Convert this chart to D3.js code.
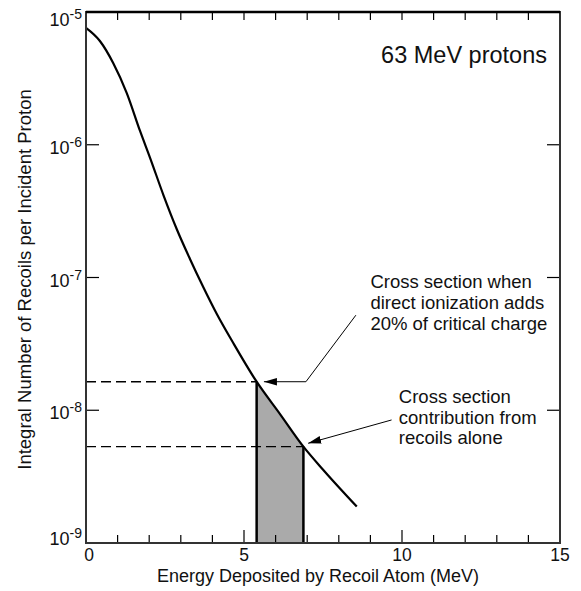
<!DOCTYPE html>
<html>
<head>
<meta charset="utf-8">
<script src="https://cdn.jsdelivr.net/npm/d3@7"></script>
<style>
  html, body { margin: 0; padding: 0; background: #fff; }
  svg { display: block; font-family: "Liberation Sans", Arial, sans-serif; }
</style>
</head>
<body>
<svg id="chart" width="581" height="591"></svg>
<script>
// ---- data ----
const energy  = [0, 0.44, 0.86, 1.29, 1.71, 2.03, 2.45, 2.87, 3.29, 3.71, 4.14, 4.66, 5.40, 6.14, 6.88, 7.51, 8.57];
const recoils = [7.6e-6, 6.05e-6, 4.13e-6, 2.45e-6, 1.27e-6, 7.94e-7, 4.18e-7, 2.32e-7, 1.38e-7, 8.48e-8, 5.31e-8, 3.21e-8, 1.64e-8, 9.36e-9, 5.32e-9, 3.55e-9, 1.88e-9];
const shadeRange = [5.40, 6.88];
const xTickLabels = [0, 5, 10, 15];
const xMinorTicks = [1, 2, 3, 4, 6, 7, 8, 9, 11, 12, 13, 14];
const xTopTicks = [1, 2, 3, 4, 5, 6, 7, 8, 9, 10, 11, 12, 13, 14];
const yExponents = [-5, -6, -7, -8, -9];
const titleText = "63 MeV protons";
const note1 = ["Cross section when", "direct ionization adds", "20% of critical charge"];
const note2 = ["Cross section", "contribution from", "recoils alone"];
const xLabel = "Energy Deposited by Recoil Atom (MeV)";
const yLabel = "Integral Number of Recoils per Incident Proton";

// ---- layout ----
const L = 86, R = 560, T = 12, B = 543;
const svg = d3.select("#chart");
const x = d3.scaleLinear().domain([0, 15]).range([L, R]);
const y = d3.scaleLog().domain([1e-9, 1e-5]).range([B, T]);

const pts = energy.map((e, i) => ({ e, v: recoils[i] }));

// shaded area
const shadePts = pts.filter(p => p.e >= shadeRange[0] - 1e-9 && p.e <= shadeRange[1] + 1e-9);
const area = d3.area().x(d => x(d.e)).y0(B).y1(d => y(d.v)).curve(d3.curveMonotoneX);
svg.append("path").datum(shadePts).attr("d", area).attr("fill", "#aaaaaa");

const first = shadePts[0], last = shadePts[shadePts.length - 1];

// dashed lines
[first, last].forEach(p => {
  svg.append("line")
    .attr("x1", L).attr("x2", x(p.e)).attr("y1", y(p.v)).attr("y2", y(p.v))
    .attr("stroke", "#000").attr("stroke-width", 1.3).attr("stroke-dasharray", "10,5");
});

// curve
const line = d3.line().x(d => x(d.e)).y(d => y(d.v)).curve(d3.curveMonotoneX);
svg.append("path").datum(pts).attr("d", line)
  .attr("fill", "none").attr("stroke", "#000").attr("stroke-width", 2.2);

// shaded verticals
[first, last].forEach(p => {
  svg.append("line")
    .attr("x1", x(p.e)).attr("x2", x(p.e)).attr("y1", B).attr("y2", y(p.v))
    .attr("stroke", "#000").attr("stroke-width", 2.5);
});

// ticks
const tk = svg.append("g").attr("stroke", "#000").attr("stroke-width", 1.2);
xMinorTicks.forEach(t => tk.append("line").attr("x1", x(t)).attr("x2", x(t)).attr("y1", B).attr("y2", B - 8));
xTickLabels.filter(t => t > 0 && t < 15).forEach(t => tk.append("line").attr("x1", x(t)).attr("x2", x(t)).attr("y1", B).attr("y2", B - 13));
xTopTicks.forEach(t => tk.append("line").attr("x1", x(t)).attr("x2", x(t)).attr("y1", T).attr("y2", T + 8));
yExponents.forEach(ex => {
  const yy = y(Math.pow(10, ex));
  tk.append("line").attr("x1", L).attr("x2", L + 13).attr("y1", yy).attr("y2", yy);
  tk.append("line").attr("x1", R).attr("x2", R - 13).attr("y1", yy).attr("y2", yy);
});

// frame
svg.append("rect").attr("x", L).attr("y", T).attr("width", R - L).attr("height", B - T)
  .attr("fill", "none").attr("stroke", "#333").attr("stroke-width", 2);
svg.append("line").attr("x1", L).attr("x2", R).attr("y1", T).attr("y2", T)
  .attr("stroke", "#000").attr("stroke-width", 2.4);

// x tick labels
svg.append("g").selectAll("text").data(xTickLabels).join("text")
  .attr("x", d => x(d) + (d === 0 ? 3 : 0)).attr("y", 561)
  .attr("text-anchor", "middle").attr("font-size", 17.5).attr("fill", "#111")
  .text(d => d);

// y tick labels
yExponents.forEach(ex => {
  const yy = y(Math.pow(10, ex));
  const base = Math.max(26, Math.min(545, yy + 9));
  const t = svg.append("text").attr("x", 82).attr("y", base)
    .attr("text-anchor", "end").attr("fill", "#111").attr("font-size", 18);
  t.append("tspan").text("10");
  t.append("tspan").attr("font-size", 14).attr("dy", -7).text(String(ex));
});

// axis labels
svg.append("text").attr("x", 318).attr("y", 582).attr("text-anchor", "middle")
  .attr("font-size", 18).attr("fill", "#111").text(xLabel);
svg.append("text").attr("transform", `translate(31,${(T + B) / 2 + 2}) rotate(-90)`)
  .attr("text-anchor", "middle").attr("font-size", 18.5).attr("fill", "#111").text(yLabel);

// title
svg.append("text").attr("x", 547).attr("y", 63).attr("text-anchor", "end")
  .attr("font-size", 23.5).attr("fill", "#111").text(titleText);

// arrow marker
svg.append("defs").append("marker").attr("id", "ah")
  .attr("markerUnits", "userSpaceOnUse").attr("markerWidth", 14).attr("markerHeight", 10)
  .attr("viewBox", "0 -5 14 10").attr("refX", 13).attr("refY", 0).attr("orient", "auto")
  .append("path").attr("d", "M0,-3.8L13,0L0,3.8Z").attr("fill", "#000");

// annotation 1 (data coords)
const a1 = [[8.54, 5.2e-8], [6.96, first.v], [5.63, first.v]];
svg.append("path").attr("d", d3.line().x(d => x(d[0])).y(d => y(d[1]))(a1))
  .attr("fill", "none").attr("stroke", "#000").attr("stroke-width", 1).attr("marker-end", "url(#ah)");
const t1 = svg.append("text").attr("font-size", 18.5).attr("fill", "#111");
note1.forEach((s, i) => t1.append("tspan").attr("x", x(9.0)).attr("y", 287.5 + i * 21).text(s));

// annotation 2
const a2 = [[9.67, 8.45e-9], [7.03, 5.64e-9]];
svg.append("path").attr("d", d3.line().x(d => x(d[0])).y(d => y(d[1]))(a2))
  .attr("fill", "none").attr("stroke", "#000").attr("stroke-width", 1).attr("marker-end", "url(#ah)");
const t2 = svg.append("text").attr("font-size", 18.5).attr("fill", "#111");
note2.forEach((s, i) => t2.append("tspan").attr("x", x(9.9)).attr("y", 403 + i * 20.5).text(s));
</script>
</body>
</html>
